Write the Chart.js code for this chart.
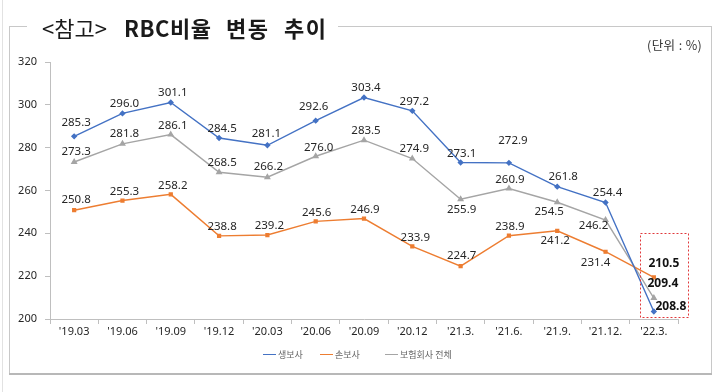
<!DOCTYPE html>
<html><head><meta charset="utf-8">
<script src="https://cdn.jsdelivr.net/npm/chart.js@4/dist/chart.umd.min.js"></script>
<style>
html,body{margin:0;padding:0;background:#fff;}
#wrap{position:relative;width:720px;height:392px;overflow:hidden;background:#fff;}
#c{position:absolute;left:0;top:0;}
.ln{position:absolute;background:#c8c8c8;}
.t{position:absolute;white-space:nowrap;font-family:"Noto Sans CJK KR","Noto Sans",sans-serif;color:#1a1a1a;line-height:1;}
.lg{position:absolute;top:349px;font-family:"Noto Sans CJK KR",sans-serif;font-size:9px;color:#666;white-space:nowrap;line-height:12px;}
.lg i{display:inline-block;width:13px;height:0;border-top:1.5px solid;vertical-align:middle;margin-right:2px;position:relative;top:-1px;}
</style></head>
<body><div id="wrap">
<div class="ln" style="left:2px;top:0;width:1px;height:392px;background:#e2e2e2"></div>
<div class="ln" style="left:9px;top:26px;width:1px;height:349px"></div>
<div class="ln" style="left:9px;top:26px;width:18px;height:1px"></div>
<div class="ln" style="left:338px;top:26px;width:374px;height:1px"></div>
<div class="ln" style="left:711px;top:26px;width:1px;height:349px"></div>
<div class="ln" style="left:9px;top:373px;width:703px;height:2px;background:#b8b8b8"></div>
<canvas id="c" width="720" height="392"></canvas>
<div class="t" style="left:42px;top:16px;font-size:22px;">&lt;참고&gt;</div>
<div class="t" style="left:124px;top:16px;font-size:22px;font-weight:bold;letter-spacing:0.5px;">RBC비율</div>
<div class="t" style="left:226px;top:16px;font-size:22px;font-weight:bold;letter-spacing:1.5px;">변동</div>
<div class="t" style="left:284px;top:16px;font-size:22px;font-weight:bold;letter-spacing:1.5px;">추이</div>
<div class="t" style="left:647px;top:39px;font-size:12.5px;color:#333;letter-spacing:0.4px;">(단위 : %)</div>
<div class="lg" style="left:263px"><i style="border-color:#4472C4"></i>생보사</div>
<div class="lg" style="left:320px"><i style="border-color:#ED7D31"></i>손보사</div>
<div class="lg" style="left:385px"><i style="border-color:#A5A5A5"></i>보험회사 전체</div>
</div>
<script>
const categories = ["'19.03","'19.06","'19.09","'19.12","'20.03","'20.06","'20.09","'20.12","'21.3.","'21.6.","'21.9.","'21.12.","'22.3."];
const yTicks = [200,220,240,260,280,300,320];
const seriesNames = ["생보사","손보사","보험회사 전체"];
const lifeValues = [285.3,296.0,301.1,284.5,281.1,292.6,303.4,297.2,273.1,272.9,261.8,254.4,203.5];
const nonLifeValues = [250.8,255.3,258.2,238.8,239.2,245.6,246.9,233.9,224.7,238.9,241.2,231.4,219.4];
const totalValues = [273.3,281.8,286.1,268.5,266.2,276.0,283.5,274.9,255.9,260.9,254.5,246.2,209.8];
// printed labels for the final quarter, as shown in the highlighted box
const lastLabels = ["208.8","210.5","209.4"];

// label placement offsets (dx, dy) relative to each point
const lifeOff = [[2,-14],[2,-10],[2,-10],[3,-9],[-1,-12],[-2,-14],[2,-10],[2,-9],[1,-9],[4,-22],[6,-10],[2,-10],[17,-5]];
const nonLifeOff = [[2,-10],[2,-9],[2,-9],[3,-9],[2,-9],[1,-9],[1,-9],[3,-9],[1,-10],[1,-9],[-2,10],[-10,11],[10,-14]];
const totalOff = [[2,-10],[2,-10],[2,-9],[3,-10],[1,-11],[3,-9],[2,-9],[2,-10],[1,10],[1,-9],[-8,9],[-12,6],[9,-14]];

const colors = ["#4472C4","#ED7D31","#A5A5A5"];

const labelPlugin = {
  id:'labels',
  afterDatasetsDraw(chart){
    const ctx = chart.ctx;
    const offs = [lifeOff, nonLifeOff, totalOff];
    ctx.save();
    ctx.textAlign='center'; ctx.textBaseline='middle';
    chart.data.datasets.forEach((ds,di)=>{
      const meta = chart.getDatasetMeta(di);
      meta.data.forEach((pt,i)=>{
        const last = i===ds.data.length-1;
        const txt = last ? lastLabels[di] : ds.data[i].toFixed(1);
        ctx.font = last ? 'bold 12px "Noto Sans", sans-serif' : '11.5px "Noto Sans", sans-serif';
        ctx.fillStyle = last ? '#111' : '#262626';
        ctx.fillText(txt, pt.x+offs[di][i][0], pt.y+offs[di][i][1]);
      });
    });
    // highlight box around final quarter
    const xs = chart.scales.x, ys = chart.scales.y;
    const cx = xs.getPixelForValue(categories.length-1);
    const top = ys.getPixelForValue(240.3), bot = ys.getPixelForValue(201.2);
    ctx.strokeStyle='#E0383B'; ctx.lineWidth=1; ctx.setLineDash([2,2]);
    ctx.strokeRect(Math.round(cx-14)+0.5, Math.round(top)+0.5, 48, Math.round(bot-top));
    ctx.restore();
  }
};

new Chart(document.getElementById('c'),{
  type:'line',
  data:{
    labels:categories,
    datasets:[
      {label:seriesNames[0],data:lifeValues,borderColor:colors[0],backgroundColor:colors[0],pointStyle:'rectRot',pointRadius:2.2,borderWidth:1.4},
      {label:seriesNames[1],data:nonLifeValues,borderColor:colors[1],backgroundColor:colors[1],pointStyle:'rect',pointRadius:2,borderWidth:1.4},
      {label:seriesNames[2],data:totalValues,borderColor:colors[2],backgroundColor:colors[2],pointStyle:'triangle',pointRadius:2.6,borderWidth:1.4}
    ]
  },
  options:{
    responsive:false,animation:false,
    layout:{padding:{left:0,right:42,top:62,bottom:53}},
    plugins:{legend:{display:false},tooltip:{enabled:false}},
    elements:{line:{tension:0},point:{borderWidth:0}},
    scales:{
      x:{
        offset:true,
        afterFit(s){s.height=20;},
        grid:{display:true,drawOnChartArea:false,offset:true,tickLength:5,color:'#bfbfbf'},
        border:{color:'#bfbfbf'},
        ticks:{padding:1,maxRotation:0,autoSkip:false,color:'#262626',font:{family:'"Noto Sans", sans-serif',size:11}}
      },
      y:{
        min:200,max:320,
        afterFit(s){s.width=50;},
        afterBuildTicks(s){s.ticks = yTicks.map(v=>({value:v}));},
        grid:{display:true,drawOnChartArea:false,tickLength:5,color:'#bfbfbf'},
        border:{color:'#bfbfbf'},
        ticks:{padding:8,color:'#262626',font:{family:'"Noto Sans", sans-serif',size:11}}
      }
    }
  },
  plugins:[labelPlugin]
});
</script>
</body></html>
